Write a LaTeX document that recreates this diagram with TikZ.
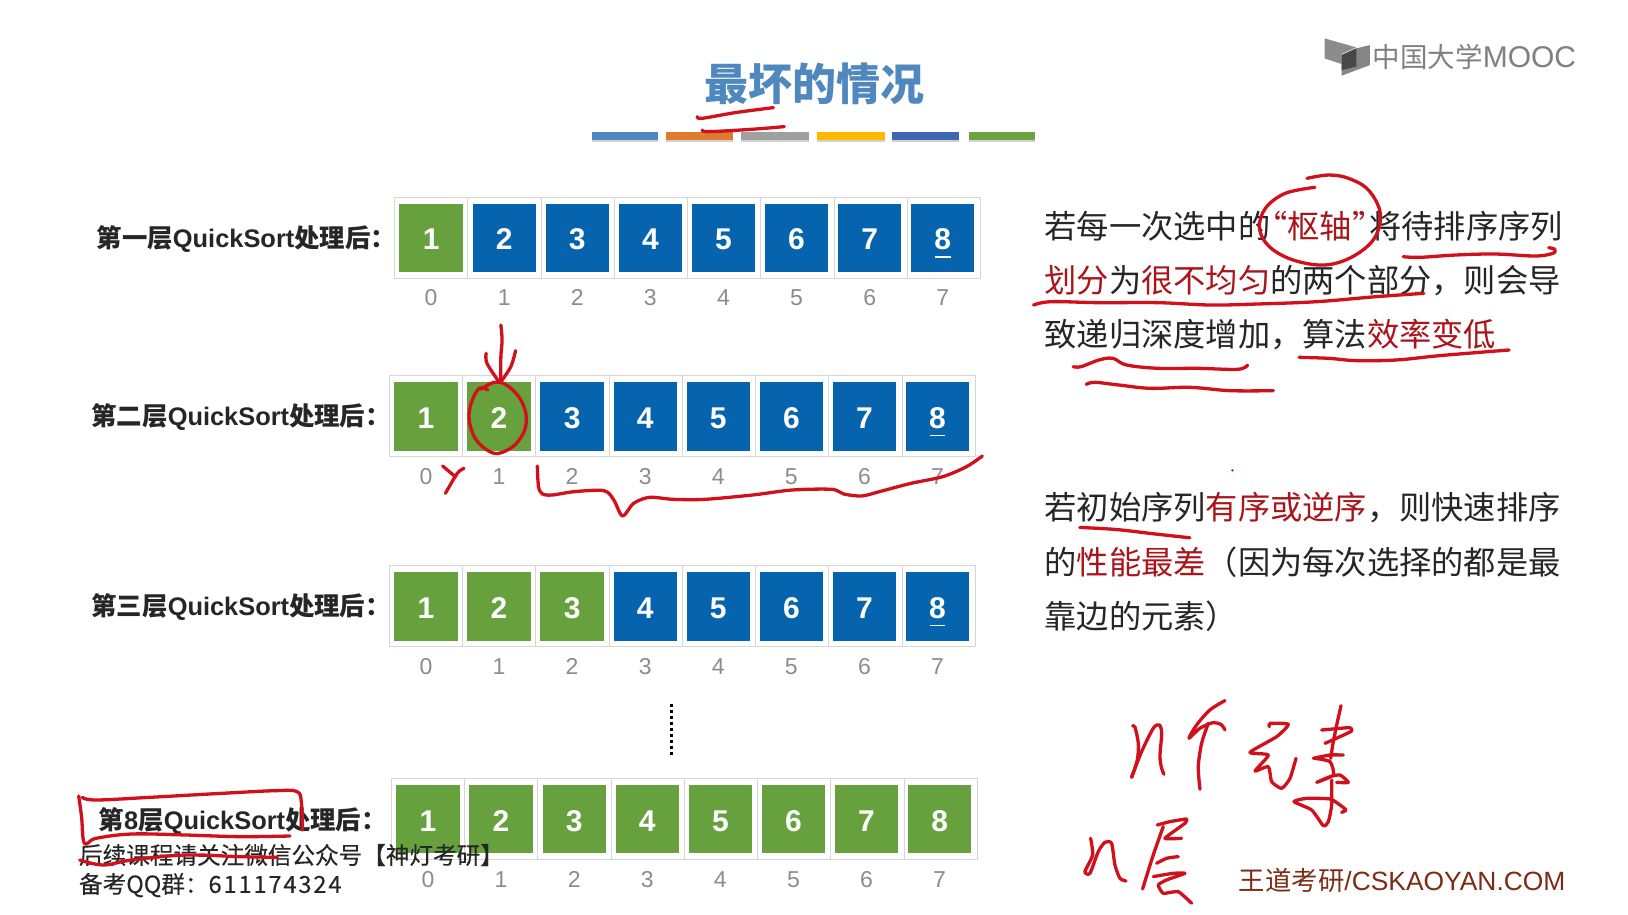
\documentclass[tikz,border=0pt]{standalone}
\usepackage{fontspec}
\setmainfont{Noto Sans CJK SC}
\newfontfamily\arialf{Liberation Sans}
\usetikzlibrary{calc}
\definecolor{cellblue}{HTML}{0663AD}
\definecolor{cellgreen}{HTML}{67A13E}
\definecolor{framegray}{HTML}{D4D6D8}
\definecolor{idxgray}{HTML}{8C8C8C}
\definecolor{txtblack}{HTML}{262626}
\definecolor{txtred}{HTML}{A9151A}
\definecolor{inkred}{HTML}{D2101C}
\definecolor{titleblue}{HTML}{4F88BF}
\definecolor{brown}{HTML}{7C2C14}
\tikzset{
  ink/.style={draw=inkred,line width=3.3pt,line cap=round,line join=round},
  zoomA/.style={shift={(963,144.5)},x=0.3963pt,y=-0.3333pt},
  zoomB/.style={shift={(57.8,732)},x=0.3593pt,y=-0.3333pt},
  zoomC/.style={shift={(366,298.6)},x=0.3963pt,y=-0.3333pt},
  zoomE/.style={shift={(549,38.5)},x=0.3307pt,y=-0.3333pt},
  zoomF/.style={shift={(1252,19.3)},x=0.3416pt,y=-0.3333pt},
  zoomG/.style={shift={(1069.06,664.5)},x=0.3333pt,y=-0.3333pt},
  zoomH/.style={shift={(1194.3,669.4)},x=0.3333pt,y=-0.3333pt},
  zoomI/.style={shift={(1030.5,775.3)},x=0.3333pt,y=-0.3333pt},
  cellbox/.style={minimum width=63.3pt,minimum height=68.5pt,inner sep=0pt,text=white,
    font=\arialf\bfseries\fontsize{30}{30}\selectfont},
  idx/.style={inner sep=0pt,text=idxgray,font=\arialf\fontsize{23}{23}\selectfont},
  rowlabel/.style={anchor=west,inner sep=0pt,text=txtblack,font=\bfseries\fontsize{25.4}{30}\selectfont},
  para/.style={anchor=west,inner sep=0pt,text=txtblack,font=\fontsize{32.25}{36}\selectfont},
  footer/.style={anchor=west,inner sep=0pt,text=txtblack,font=\fontsize{23.6}{26}\selectfont},
  bar/.style={line width=8.2pt},
}
\newcommand{\qs}{{\arialf\bfseries QuickSort}}
% #1 row id, #2 left x, #3 top y, #4 green count, #5 underline flag
\newcommand{\cellrow}[5]{
  \draw[framegray,line width=1.1pt] (#2,#3) rectangle ++(564.5,78);
  \foreach \i in {1,...,7}{
    \draw[framegray,line width=1pt] ({#2+70.55*\i},#3) -- ++(0,78);
  }
  \foreach \i [evaluate=\i as \d using int(\i+1)] in {0,...,7}{
    \pgfmathsetmacro{\cx}{#2+35.2+70.4*\i}
    \pgfmathsetmacro{\cy}{#3+39}
    \ifnum\i<#4\relax\def\cc{cellgreen}\else\def\cc{cellblue}\fi
    \node[cellbox,fill=\cc] (#1c\i) at (\cx,\cy) {};
    \node[text=white,inner sep=0pt,font=\arialf\bfseries\fontsize{30}{30}\selectfont] (#1n\i) at (\cx,\cy+1.6) {\d};
    \node[idx] (#1i\i) at (\cx,{#3+96.8}) {\i};
  }
  \ifnum#5=1\relax
    \draw[white,line width=1.8pt] ($(#1c7.center)+(-7.5,18.5)$) -- ($(#1c7.center)+(7.5,18.5)$);
  \fi
}
\begin{document}
\begin{tikzpicture}[x=1.0383pt,y=-1.0383pt]
\fill[white] (0,0) rectangle (1568,881);
\useasboundingbox (0,0) rectangle (1568,881);

% title and bars
\node[inner sep=0pt,text=titleblue,font=\bfseries\fontsize{44}{48}\selectfont] (title) at (784,81) {最坏的情况};
\foreach \a/\b/\c in {570/634/4F88C0,641/706/DE7B30,714/779/A0A0A0,787/852/FDB900,859/924/3F65B5,933/997/6AA43F}{
  \definecolor{barc}{HTML}{\c}
  \draw[bar,black!18] (\a,133) -- (\b,133);
  \draw[bar,barc] (\a,131) -- (\b,131);
}

% logo
\begin{scope}[zoomF]
  \fill[black!45] (72,55) -- (165,82) -- (122,102) -- (122,132) -- (72,115) -- cycle;
  \fill[black!48] (165,85) -- (205,75) -- (205,135) -- (122,167) -- (122,105) -- cycle;
  \fill[black!72] (122,105) -- (165,85) -- (165,140) -- (122,150) -- cycle;
\end{scope}
\node[anchor=west,inner sep=0pt,text=black!50,font=\fontsize{27.5}{30}\selectfont] (logo) at (1322,55) {中国大学{\arialf\fontsize{30}{30}\selectfont MOOC}};

% rows
\cellrow{a}{380}{190}{1}{1}
\cellrow{b}{375}{362}{2}{1}
\cellrow{c}{375}{545}{3}{1}
\cellrow{d}{377}{750}{8}{0}

\node[rowlabel] (la) at (93,230) {第一层\qs 处理后：};
\node[rowlabel] (lb) at (88,402) {第二层\qs 处理后：};
\node[rowlabel] (lc) at (88,585) {第三层\qs 处理后：};
\node[rowlabel] (ld) at (95,791) {第{\arialf\bfseries 8}层\qs 处理后：};

\draw[black,line width=3pt,dash pattern=on 3pt off 3pt] (647,678) -- (647,730);

% right text
\node[para] (p1) at (1006,218.3) {若每一次选中的\kern-15pt{\color{txtred}“枢轴”}\kern-15pt 将待排序序列};
\node[para] (p2) at (1006,270.3) {{\color{txtred}划分}为{\color{txtred}很不均匀}的两个部分，则会导};
\node[para] (p3) at (1006,322.3) {致递归深度增加，算法{\color{txtred}效率变低}};
\node[para] (p4) at (1006,489.3) {若初始序列{\color{txtred}有序或逆序}，则快速排序};
\node[para] (p5) at (1006,541.3) {的{\color{txtred}性能最差}（因为每次选择的都是最};
\node[para] (p6) at (1006,593.3) {靠边的元素）};

% footers
\node[anchor=west,inner sep=0pt,text=brown,font=\fontsize{26.4}{30}\selectfont] (brand) at (1193,848) {王道考研{\arialf /CSKAOYAN.COM}};
\node[footer] (f1) at (76,823.5) {\addfontfeature{FakeBold=0.25}后续课程请关注微信公众号【神灯考研】};
\node[footer] (f2) at (76,852.5) {\addfontfeature{FakeBold=0.25}备考QQ群：{\addfontfeature{LetterSpace=8,FakeBold=0.25}611174324}};

% ink: title
\begin{scope}[zoomE]
  \draw[ink] plot[smooth,tension=0.6] coordinates {(385,230) (400,235) (500,218) (615,203)};
  \draw[ink] plot[smooth,tension=0.6] coordinates {(400,270) (420,275) (550,268) (648,260)};
\end{scope}

% ink: right text
\begin{scope}[zoomA]
  \draw[ink] plot[smooth,tension=0.6] coordinates {(795,112) (720,130) (670,175) (655,235) (680,290) (740,330) (820,345) (890,320) (945,265) (960,190) (930,120) (880,85) (830,75) (775,85)};
  \draw[ink] plot[smooth,tension=0.6] coordinates {(1018,320) (1060,322) (1150,315) (1250,312) (1350,318) (1395,310) (1400,298) (1385,293)};
  \draw[ink] plot[smooth,tension=0.6] coordinates {(85,465) (130,455) (250,458) (400,458) (530,465) (650,462) (800,455) (950,440) (1070,430)};
  \draw[ink] plot[smooth,tension=0.6] coordinates {(755,622) (830,625) (900,632) (1000,630) (1100,618) (1200,608) (1285,600)};
  \draw[ink] plot[smooth,tension=0.6] coordinates {(185,650) (205,650) (250,630) (285,625) (320,645) (400,655) (500,655) (600,658) (625,645)};
  \draw[ink] plot[smooth,tension=0.6] coordinates {(218,703) (240,697) (300,705) (380,715) (480,712) (580,722) (690,722)};
\end{scope}
% ink: underline of 初始序列 and dot
\draw[ink] plot[smooth,tension=0.6] coordinates {(1040,508) (1075,510) (1110,514) (1146,518)};
\fill[inkred] (1187,453) circle (1.3);

% ink: second row
\begin{scope}[zoomC]
  \draw[ink] plot[smooth,tension=0.6] coordinates {(305,45) (308,90) (305,140) (305,215)};
  \draw[ink] plot[smooth,tension=0.6] coordinates {(268,130) (270,160) (300,215)};
  \draw[ink] plot[smooth,tension=0.6] coordinates {(342,122) (330,170) (305,215)};
  \draw[ink] plot[smooth,tension=0.6] coordinates {(272,240) (250,235) (230,280) (225,330) (240,385) (270,420) (300,430) (340,405) (365,360) (368,310) (350,260) (315,222) (285,218) (255,238)};
  \draw[ink] plot[smooth,tension=0.5] coordinates {(397,468) (400,530) (410,552) (435,555) (490,545) (565,542) (590,570) (612,618) (640,580) (680,562) (740,568) (820,568) (940,555) (1040,540) (1140,538) (1170,552) (1215,558) (1260,545) (1340,520) (1420,500) (1480,470) (1520,438)};
  \draw[ink] (158,468) -- (190,500);
  \draw[ink] plot[smooth,tension=0.5] coordinates {(212,475) (195,490) (165,550)};
\end{scope}

% ink: bottom label
\begin{scope}[zoomB]
  \draw[ink] plot[smooth,tension=0.6] coordinates {(52,108) (60,170) (68,250) (100,235) (200,222) (350,225) (500,230) (640,228)};
  \draw[ink] plot[smooth,tension=0.6] coordinates {(62,112) (100,120) (250,112) (450,100) (600,92) (660,95) (672,130) (675,210)};
  \draw[ink] plot[smooth,tension=0.6] coordinates {(55,300) (120,315) (200,300) (350,285) (500,290) (605,292)};
\end{scope}

% ink: n ge
\begin{scope}[zoomG]
  \draw[ink] plot[smooth,tension=0.5] coordinates {(68,108) (75,112) (85,160) (82,210) (65,262)};
  \draw[ink] plot[smooth,tension=0.5] coordinates {(65,262) (95,185) (130,115) (148,105) (155,130) (150,200) (155,235) (162,253)};
  \draw[ink] plot[smooth,tension=0.5] coordinates {(345,32) (300,60) (260,105) (237,145) (270,115) (310,98) (335,105) (345,120)};
  \draw[ink] plot[smooth,tension=0.5] coordinates {(295,100) (275,160) (265,230) (270,298)};
\end{scope}
% ink: yuan su
\begin{scope}[zoomH]
  \draw[ink] plot[smooth,tension=0.35] coordinates {(88,95) (90,85) (145,88) (110,125) (30,172) (85,180) (45,228) (85,215) (95,260) (125,280) (150,250) (168,190)};
  \draw[ink] (303,32) -- (290,90) -- (278,150) -- (272,190);
  \draw[ink] plot[smooth,tension=0.35] coordinates {(245,105) (300,100) (330,98) (335,108) (300,125) (255,145)};
  \draw[ink] plot[smooth,tension=0.35] coordinates {(220,190) (270,180) (310,180)};
  \draw[ink] plot[smooth,tension=0.35] coordinates {(225,190) (270,200) (280,240) (230,262) (270,245) (300,240) (325,262) (290,262)};
  \draw[ink] plot[smooth,tension=0.35] coordinates {(275,255) (275,330) (265,380) (250,392) (215,345) (162,320) (200,310) (270,312) (300,330) (318,345) (305,352)};
\end{scope}
% ink: n ceng
\begin{scope}[zoomI]
  \draw[ink] plot[smooth,tension=0.4] coordinates {(62,100) (68,150) (45,200) (60,205) (85,140) (105,112) (125,115) (135,180) (150,220) (168,228)};
  \draw[ink] plot[smooth,tension=0.25] coordinates {(262,60) (300,50) (350,42) (345,55) (285,100) (335,100)};
  \draw[ink] plot[smooth,tension=0.5] coordinates {(280,65) (250,150) (218,252)};
  \draw[ink] plot[smooth,tension=0.4] coordinates {(260,175) (290,160) (325,155)};
  \draw[ink] plot[smooth,tension=0.3] coordinates {(250,215) (310,205) (345,205) (290,225) (265,240) (280,265) (325,260) (365,295)};
\end{scope}
\end{tikzpicture}
\end{document}
